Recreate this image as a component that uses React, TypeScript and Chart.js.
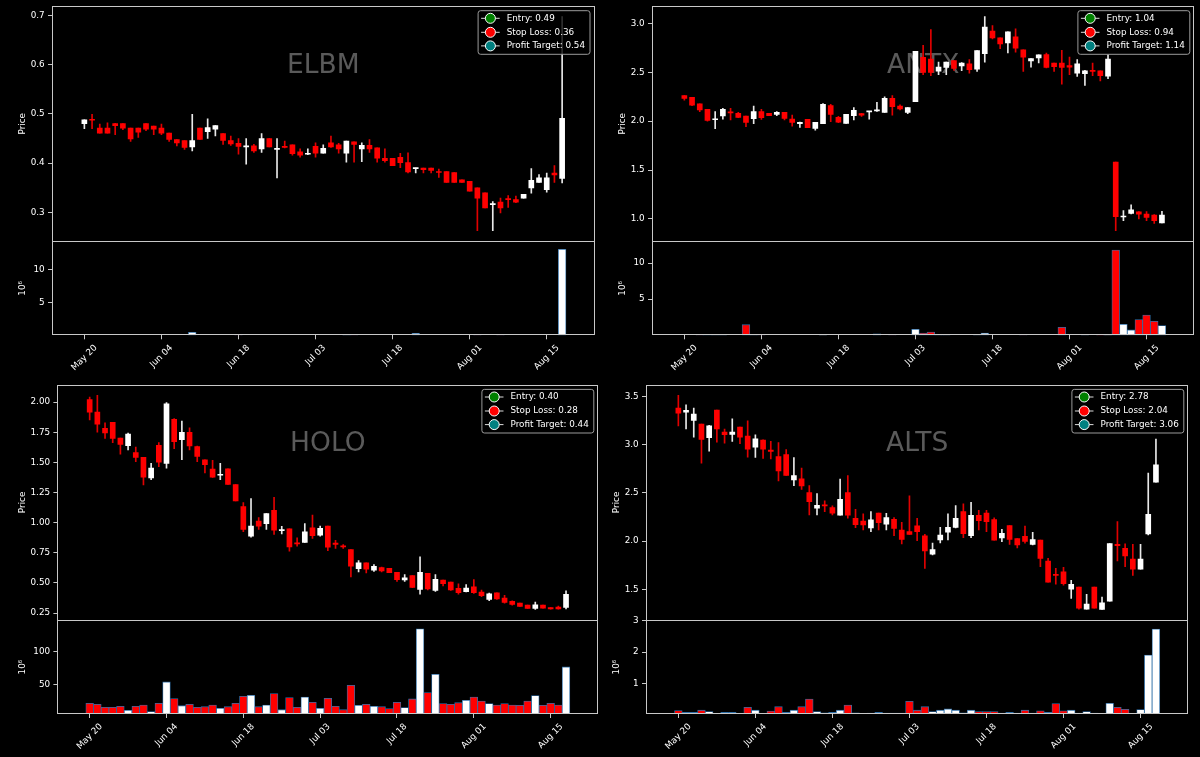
import React, { useEffect, useRef } from "react";
import { Chart, registerables } from "chart.js";

Chart.register(...registerables);

const FONT_FAMILY = "'DejaVu Sans', 'Liberation Sans', sans-serif";
const X_MIN = -4.2;
const X_MAX = 66.2;
const DATE_TICK_POSITIONS = [0, 10, 20, 30, 40, 50, 60];
const DATE_TICK_LABELS = ["May 20", "Jun 04", "Jun 18", "Jul 03", "Jul 18", "Aug 01", "Aug 15"];
const LEGEND_NAMES = ["Entry", "Stop Loss", "Profit Target"];

// ---------------- ELBM ----------------
const ELBM_OPEN = [0.480,0.489,0.471,0.471,0.480,0.480,0.471,0.471,0.480,0.475, 0.471,0.461,0.448,0.446,0.433,0.471,0.464,0.469,0.460,0.446, 0.440,0.433,0.435,0.429,0.450,0.428,0.433,0.437,0.423,0.418, 0.434,0.420,0.441,0.437,0.420,0.443,0.429,0.436,0.431,0.410, 0.410,0.412,0.401,0.389,0.390,0.390,0.382,0.383,0.381,0.366, 0.363,0.350,0.340,0.316,0.321,0.328,0.326,0.329,0.350,0.361, 0.346,0.380,0.369];
const ELBM_HIGH = [0.488,0.499,0.479,0.482,0.481,0.480,0.471,0.471,0.480,0.475, 0.479,0.461,0.448,0.446,0.499,0.471,0.490,0.476,0.460,0.455, 0.450,0.450,0.438,0.460,0.450,0.450,0.445,0.437,0.429,0.429, 0.441,0.437,0.455,0.440,0.445,0.443,0.441,0.448,0.431,0.429, 0.410,0.420,0.421,0.390,0.390,0.390,0.388,0.383,0.381,0.366, 0.363,0.350,0.340,0.322,0.329,0.334,0.333,0.337,0.389,0.377, 0.380,0.395,0.697];
const ELBM_LOW = [0.470,0.470,0.461,0.461,0.458,0.468,0.444,0.452,0.466,0.458, 0.458,0.444,0.435,0.428,0.425,0.448,0.450,0.455,0.438,0.436, 0.418,0.398,0.422,0.422,0.433,0.370,0.431,0.416,0.412,0.417, 0.412,0.420,0.432,0.420,0.402,0.402,0.403,0.422,0.402,0.402, 0.395,0.391,0.380,0.380,0.380,0.380,0.371,0.361,0.361,0.361, 0.343,0.263,0.309,0.263,0.299,0.310,0.320,0.329,0.339,0.361, 0.341,0.361,0.360];
const ELBM_CLOSE = [0.488,0.487,0.461,0.461,0.476,0.471,0.449,0.463,0.469,0.469, 0.461,0.448,0.441,0.432,0.446,0.448,0.472,0.476,0.446,0.439, 0.434,0.434,0.425,0.450,0.433,0.429,0.432,0.419,0.416,0.419, 0.420,0.430,0.433,0.429,0.445,0.438,0.436,0.429,0.410,0.405, 0.395,0.401,0.382,0.390,0.387,0.385,0.381,0.361,0.361,0.361, 0.343,0.329,0.309,0.317,0.309,0.326,0.321,0.337,0.365,0.370, 0.370,0.376,0.491];
const ELBM_VOLUME = [0,0,0,0,0,0,0,0,0,0, 0,0,0,0,0.46,0,0,0,0,0, 0.1,0,0,0,0,0,0,0,0,0, 0,0,0,0,0.12,0.1,0,0,0,0, 0,0,0,0.3,0,0,0,0,0,0, 0,0.08,0,0,0.08,0,0,0,0,0, 0,0,13.1];
const ELBM_LEVELS = [0.49, 0.36, 0.54];
const ELBM_PRICE_TICKS = [0.3, 0.4, 0.5, 0.6, 0.7];
const ELBM_VOLUME_TICKS = [5, 10];
const ELBM_VOLUME_RANGE = [0, 14.3];

// ---------------- ANTX ----------------
const ANTX_OPEN = [2.262,2.245,2.177,2.122,2.015,2.053,2.090,2.081,2.053,2.025, 2.098,2.081,2.070,2.091,2.022,1.975,2.019,1.926,1.974,2.160, 2.040,1.978,2.057,2.077,2.095,2.105,2.091,2.235,2.156,2.091, 2.201,2.653,2.636,2.513,2.551,2.619,2.565,2.588,2.533,2.691, 2.921,2.852,2.801,2.863,2.729,2.616,2.647,2.681,2.595,2.595, 2.568,2.492,2.485,2.516,2.516,2.461,1.583,1.020,1.058,1.072, 1.051,1.041,0.959];
const ANTX_HIGH = [2.262,2.245,2.177,2.122,2.098,2.132,2.132,2.090,2.053,2.156, 2.122,2.081,2.098,2.091,2.063,1.990,2.019,1.988,2.180,2.173, 2.050,2.070,2.139,2.080,2.100,2.194,2.250,2.262,2.167,2.139, 2.715,2.777,2.938,2.606,2.606,2.620,2.600,2.630,2.722,3.069, 2.979,2.852,2.914,2.945,2.729,2.640,2.678,2.698,2.595,2.726, 2.657,2.630,2.520,2.595,2.516,2.681,1.583,1.086,1.144,1.075, 1.075,1.045,1.079];
const ANTX_LOW = [2.214,2.160,2.098,2.000,1.923,2.022,2.012,2.035,1.943,1.975, 2.019,2.057,2.057,2.012,1.950,1.936,1.933,1.909,1.974,1.995, 1.985,1.978,2.012,2.050,2.022,2.100,2.090,2.063,2.115,2.077, 2.200,2.475,2.465,2.475,2.475,2.520,2.516,2.492,2.509,2.605, 2.842,2.743,2.698,2.705,2.509,2.554,2.595,2.544,2.509,2.379, 2.475,2.458,2.365,2.465,2.413,2.434,0.880,0.983,1.051,1.000, 0.983,0.955,0.959];
const ANTX_CLOSE = [2.232,2.163,2.115,2.009,2.020,2.122,2.085,2.039,1.988,2.098, 2.036,2.057,2.091,2.029,1.988,1.988,1.933,1.988,2.173,2.070, 1.991,2.070,2.112,2.063,2.100,2.110,2.235,2.149,2.125,2.139, 2.715,2.500,2.500,2.554,2.606,2.540,2.595,2.527,2.722,2.962, 2.852,2.791,2.914,2.746,2.654,2.640,2.678,2.551,2.557,2.551, 2.554,2.588,2.516,2.510,2.465,2.636,1.024,1.027,1.093,1.048, 1.017,0.983,1.041];
const ANTX_VOLUME = [0,0,0.1,0.15,0.1,0.08,0,0,1.47,0.1, 0.08,0,0,0,0,0,0,0,0.06,0, 0,0,0,0,0,0.2,0,0.1,0,0, 0.83,0.3,0.45,0.1,0.08,0,0,0,0.08,0.3, 0,0,0,0,0.08,0,0,0,0,1.1, 0,0,0.08,0,0.05,0.05,11.8,1.52,0.74,2.17, 2.8,1.93,1.35];
const ANTX_LEVELS = [1.04, 0.94, 1.14];
const ANTX_PRICE_TICKS = [1.0, 1.5, 2.0, 2.5, 3.0];
const ANTX_VOLUME_TICKS = [5, 10];
const ANTX_VOLUME_RANGE = [0, 13.0];

// ---------------- HOLO ----------------
const HOLO_OPEN = [2.022,1.917,1.783,1.833,1.703,1.639,1.581,1.542,1.372,1.642, 1.492,1.858,1.689,1.750,1.631,1.522,1.444,1.394,1.447,1.317, 1.133,0.889,1.014,0.992,1.103,0.934,0.950,0.828,0.836,0.958, 0.897,0.972,0.831,0.808,0.778,0.619,0.667,0.606,0.628,0.622, 0.589,0.525,0.561,0.447,0.581,0.439,0.525,0.508,0.456,0.428, 0.469,0.425,0.364,0.419,0.375,0.347,0.333,0.317,0.289,0.317, 0.297,0.300,0.297];
const HOLO_HIGH = [2.042,2.056,1.828,1.833,1.703,1.744,1.628,1.542,1.492,1.664, 1.997,1.864,1.842,1.786,1.636,1.522,1.517,1.492,1.447,1.317, 1.167,1.200,1.042,1.075,1.211,0.969,0.950,0.875,0.992,1.064, 0.972,0.972,0.853,0.819,0.778,0.686,0.667,0.653,0.633,0.622, 0.589,0.569,0.561,0.717,0.581,0.569,0.525,0.508,0.494,0.486, 0.528,0.442,0.417,0.419,0.397,0.353,0.333,0.317,0.342,0.317, 0.297,0.308,0.436];
const HOLO_LOW = [1.853,1.750,1.700,1.664,1.569,1.603,1.506,1.314,1.356,1.464, 1.453,1.614,1.522,1.603,1.506,1.414,1.375,1.356,1.317,1.181, 0.925,0.881,0.944,0.944,0.903,0.908,0.764,0.806,0.836,0.869, 0.889,0.769,0.786,0.786,0.550,0.592,0.583,0.597,0.592,0.586, 0.514,0.514,0.461,0.408,0.442,0.431,0.475,0.439,0.408,0.425, 0.414,0.386,0.353,0.364,0.333,0.317,0.306,0.289,0.281,0.292, 0.283,0.283,0.286];
const HOLO_CLOSE = [1.917,1.817,1.744,1.700,1.650,1.736,1.542,1.378,1.453,1.503, 1.986,1.672,1.750,1.636,1.550,1.481,1.378,1.397,1.317,1.181, 0.944,0.972,0.972,1.075,0.939,0.936,0.800,0.825,0.925,0.892, 0.953,0.797,0.819,0.800,0.639,0.667,0.614,0.639,0.600,0.586, 0.528,0.542,0.464,0.589,0.450,0.531,0.494,0.442,0.419,0.458, 0.419,0.394,0.411,0.367,0.339,0.322,0.306,0.289,0.319,0.292, 0.286,0.286,0.406];
const HOLO_VOLUME = [20.9,19.4,14.8,14.8,16.3,10.2,16.3,18.4,8.2,20.9, 53.6,28.1,17.3,19.4,14.8,15.8,18.4,13.3,15.8,20.9, 31.6,33.2,15.8,18.4,35.7,11.2,29.6,14.8,30.6,22.4, 13.3,28.6,16.3,11.2,48.5,17.9,19.4,16.3,15.8,12.8, 22.4,14.3,27.6,134.7,37.2,65.3,20.4,19.4,21.9,25.5, 30.6,24.5,20.4,18.4,20.4,18.4,17.9,24.5,32.7,17.9, 20.9,18.4,76.5];
const HOLO_LEVELS = [0.40, 0.28, 0.44];
const HOLO_PRICE_TICKS = [0.25, 0.5, 0.75, 1.0, 1.25, 1.5, 1.75, 2.0];
const HOLO_VOLUME_TICKS = [50, 100];
const HOLO_VOLUME_RANGE = [4.6, 148];

// ---------------- ALTS ----------------
const ALTS_OPEN = [3.379,3.337,3.251,3.213,3.071,3.358,3.130,3.106,3.182,3.088, 2.974,3.047,2.943,2.877,2.898,2.635,2.645,2.503,2.341,2.372, 2.348,2.268,2.503,2.237,2.209,2.137,2.292,2.175,2.227,2.116, 2.099,2.158,2.054,1.864,2.012,2.092,2.143,2.306,2.057,2.268, 2.292,2.223,2.033,2.161,2.026,2.050,1.967,2.012,1.794,1.656, 1.683,1.503,1.524,1.296,1.524,1.293,1.379,1.967,1.926,1.815, 1.711,2.074,2.611];
const ALTS_HIGH = [3.510,3.413,3.379,3.213,3.200,3.358,3.161,3.268,3.182,3.247, 3.102,3.050,3.033,3.022,2.950,2.867,2.756,2.576,2.493,2.417, 2.365,2.642,2.680,2.330,2.282,2.306,2.292,2.289,2.244,2.196, 2.469,2.237,2.071,1.981,2.143,2.282,2.369,2.386,2.403,2.320, 2.320,2.241,2.123,2.161,2.026,2.157,2.092,2.012,1.822,1.718, 1.728,1.593,1.524,1.448,1.524,1.421,1.974,2.203,1.971,1.967, 1.967,2.704,3.057];
const ALTS_LOW = [3.195,3.164,3.078,2.808,2.933,3.026,3.016,3.033,3.009,2.870, 2.867,2.856,2.853,2.625,2.680,2.576,2.535,2.272,2.272,2.306, 2.272,2.268,2.237,2.140,2.116,2.099,2.116,2.116,2.057,1.971, 2.071,2.005,1.718,1.857,1.981,2.012,2.137,2.036,2.036,2.116, 2.099,2.009,1.995,1.967,1.929,1.978,1.960,1.735,1.576,1.555, 1.545,1.407,1.296,1.296,1.306,1.293,1.379,1.794,1.735,1.645, 1.711,2.064,2.611];
const ALTS_CLOSE = [3.327,3.355,3.317,3.054,3.196,3.164,3.102,3.130,3.078,2.953, 3.061,2.953,2.929,2.728,2.680,2.680,2.573,2.410,2.372,2.365, 2.289,2.434,2.268,2.171,2.168,2.220,2.192,2.244,2.133,2.019, 2.071,2.099,1.898,1.912,2.064,2.143,2.237,2.078,2.268,2.213, 2.202,2.009,2.081,2.019,1.960,1.998,2.016,1.822,1.576,1.645, 1.559,1.552,1.306,1.348,1.306,1.362,1.974,1.953,1.846,1.711, 1.815,2.278,2.791];
const ALTS_VOLUME = [0.16,0.1,0.1,0.17,0.13,0.06,0.1,0.1,0.05,0.26, 0.17,0.05,0.14,0.28,0.1,0.17,0.28,0.52,0.13,0.09, 0.1,0.17,0.33,0.09,0.05,0.08,0.1,0.08,0.08,0.08, 0.45,0.17,0.28,0.13,0.17,0.21,0.17,0.09,0.17,0.13, 0.13,0.13,0.08,0.1,0.08,0.17,0.08,0.15,0.1,0.38, 0.15,0.17,0.08,0.13,0.08,0.07,0.39,0.26,0.2,0.06, 0.19,1.91,2.73];
const ALTS_LEVELS = [2.78, 2.04, 3.06];
const ALTS_PRICE_TICKS = [1.5, 2.0, 2.5, 3.0, 3.5];
const ALTS_VOLUME_TICKS = [1, 2, 3];
const ALTS_VOLUME_RANGE = [0.05, 3.01];

// ---------------- styles ----------------
const UP_COLOR = "#ffffff";
const DOWN_COLOR = "#ff0000";
const UP_WICK = "#e8e8e8";
const DOWN_WICK = "#e00000";
const VOL_EDGE = "#2f6fa8";
const AXIS_COLOR = "#c8c8c8";
const TEXT_COLOR = "#ffffff";
const WATERMARK_COLOR = "#5a5a5a";
const LEGEND_MARKERS = ["#008000", "#ff0000", "#008080"];
const FS = 8.8;

type Frame = { left: number; top: number; width: number; height: number; axisLeft: number; padRight: number; padTop: number; xAxisHeight: number; titleOffset: number };

const PANELS = [
  { symbol: "ELBM", open: ELBM_OPEN, high: ELBM_HIGH, low: ELBM_LOW, close: ELBM_CLOSE, volume: ELBM_VOLUME, levels: ELBM_LEVELS, priceTicks: ELBM_PRICE_TICKS, priceDecimals: 1, volumeTicks: ELBM_VOLUME_TICKS, volumeRange: ELBM_VOLUME_RANGE,
    frame: { left: 0, top: 0, width: 600, height: 378, axisLeft: 52, padRight: 5.5, padTop: 6, xAxisHeight: 42.7, titleOffset: 17 } },
  { symbol: "ANTX", open: ANTX_OPEN, high: ANTX_HIGH, low: ANTX_LOW, close: ANTX_CLOSE, volume: ANTX_VOLUME, levels: ANTX_LEVELS, priceTicks: ANTX_PRICE_TICKS, priceDecimals: 1, volumeTicks: ANTX_VOLUME_TICKS, volumeRange: ANTX_VOLUME_RANGE,
    frame: { left: 600, top: 0, width: 600, height: 378, axisLeft: 52, padRight: 5.7, padTop: 6, xAxisHeight: 42.7, titleOffset: 17 } },
  { symbol: "HOLO", open: HOLO_OPEN, high: HOLO_HIGH, low: HOLO_LOW, close: HOLO_CLOSE, volume: HOLO_VOLUME, levels: HOLO_LEVELS, priceTicks: HOLO_PRICE_TICKS, priceDecimals: 2, volumeTicks: HOLO_VOLUME_TICKS, volumeRange: HOLO_VOLUME_RANGE,
    frame: { left: 0, top: 378, width: 600, height: 379, axisLeft: 57.4, padRight: 1.7, padTop: 6.7, xAxisHeight: 43, titleOffset: 17 } },
  { symbol: "ALTS", open: ALTS_OPEN, high: ALTS_HIGH, low: ALTS_LOW, close: ALTS_CLOSE, volume: ALTS_VOLUME, levels: ALTS_LEVELS, priceTicks: ALTS_PRICE_TICKS, priceDecimals: 1, volumeTicks: ALTS_VOLUME_TICKS, volumeRange: ALTS_VOLUME_RANGE,
    frame: { left: 600, top: 378, width: 600, height: 379, axisLeft: 46, padRight: 11.7, padTop: 6.7, xAxisHeight: 43, titleOffset: 11.4 } },
];

function zeroPad(s: any) {
  s.paddingLeft = 0; s.paddingRight = 0; s.paddingTop = 0; s.paddingBottom = 0;
}

function roundRect(ctx: CanvasRenderingContext2D, x: number, y: number, w: number, h: number, r: number) {
  ctx.beginPath();
  ctx.moveTo(x + r, y);
  ctx.lineTo(x + w - r, y);
  ctx.arcTo(x + w, y, x + w, y + r, r);
  ctx.lineTo(x + w, y + h - r);
  ctx.arcTo(x + w, y + h, x + w - r, y + h, r);
  ctx.lineTo(x + r, y + h);
  ctx.arcTo(x, y + h, x, y + h - r, r);
  ctx.lineTo(x, y + r);
  ctx.arcTo(x, y, x + r, y, r);
  ctx.closePath();
}

function makeDecorPlugin(p: any) {
  return {
    id: "panelDecor",
    beforeDatasetsDraw(chart: any) {
      const { ctx, chartArea } = chart;
      const ys = chart.scales.y;
      ctx.save();
      ctx.font = `26.5px ${FONT_FAMILY}`;
      ctx.fillStyle = WATERMARK_COLOR;
      ctx.textAlign = "center";
      ctx.textBaseline = "alphabetic";
      ctx.fillText(p.symbol, (chartArea.left + chartArea.right) / 2, ys.top + 66.7);
      ctx.restore();
    },
    afterDraw(chart: any) {
      const { ctx, chartArea } = chart;
      const ys = chart.scales.y;
      const vs = chart.scales.v;
      const xs = chart.scales.x;
      ctx.save();
      // spines
      ctx.strokeStyle = AXIS_COLOR;
      ctx.lineWidth = 1;
      const L = Math.round(chartArea.left) + 0.5;
      const R = Math.round(chartArea.right) - 0.5;
      const T = Math.round(ys.top) + 0.5;
      const M = Math.round(ys.bottom) + 0.5;
      const B = Math.round(vs.bottom) - 0.5;
      ctx.strokeRect(L, T, R - L, M - T);
      ctx.strokeRect(L, M, R - L, B - M);

      // legend
      ctx.font = `${FS}px ${FONT_FAMILY}`;
      const labels = LEGEND_NAMES.map((n, k) => `${n}: ${p.levels[k].toFixed(2)}`);
      const textW = Math.max(...labels.map((t) => ctx.measureText(t).width));
      const w = 28.6 + textW + 5;
      const h = 43.6;
      const right = chartArea.right - 4.5;
      const top = ys.top + 4.7;
      const left = right - w;
      roundRect(ctx, left, top, w, h, 2.5);
      ctx.fillStyle = "rgba(0,0,0,0.8)";
      ctx.fill();
      ctx.strokeStyle = "#9a9a9a";
      ctx.stroke();
      const rows = [7.6, 21.6, 35.2];
      labels.forEach((t, k) => {
        const cy = top + rows[k];
        ctx.strokeStyle = "#dcdcdc";
        ctx.lineWidth = 1;
        ctx.beginPath();
        ctx.moveTo(left + 3, cy);
        ctx.lineTo(left + 21.6, cy);
        ctx.stroke();
        ctx.beginPath();
        ctx.arc(left + 12.3, cy, 5, 0, Math.PI * 2);
        ctx.fillStyle = LEGEND_MARKERS[k];
        ctx.fill();
        ctx.strokeStyle = "#ffffff";
        ctx.stroke();
        ctx.fillStyle = TEXT_COLOR;
        ctx.textAlign = "left";
        ctx.textBaseline = "middle";
        ctx.fillText(t, left + 28.6, cy);
      });

      // rotated date labels (centred like matplotlib)
      ctx.fillStyle = TEXT_COLOR;
      ctx.textAlign = "center";
      ctx.textBaseline = "middle";
      DATE_TICK_POSITIONS.forEach((pos, k) => {
        const label = DATE_TICK_LABELS[k];
        const tw = ctx.measureText(label).width;
        const th = FS * 1.17;
        const side = (tw + th) * Math.SQRT1_2;
        const x = xs.getPixelForValue(pos);
        const cy = vs.bottom + 7.5 + side / 2;
        ctx.save();
        ctx.translate(x, cy);
        ctx.rotate(-Math.PI / 4);
        ctx.fillText(label, 0, 0);
        ctx.restore();
      });
      ctx.restore();
    },
  };
}

function buildConfig(p: any): any {
  const f: Frame = p.frame;
  const up = p.open.map((o: number, i: number) => p.close[i] >= o);
  const bodyColors = up.map((u: boolean) => (u ? UP_COLOR : DOWN_COLOR));
  const wickColors = up.map((u: boolean) => (u ? UP_WICK : DOWN_WICK));
  const lo = Math.min(...p.low);
  const hi = Math.max(...p.high);
  const margin = (hi - lo) * 0.05;
  const wicks = p.low.map((l: number, i: number) => ({ x: i, y: [l, p.high[i]] }));
  const bodies = p.open.map((o: number, i: number) => ({ x: i, y: [o, p.close[i]] }));
  const vols = p.volume.map((v: number, i: number) => ({ x: i, y: v }));
  const tickFont = { family: FONT_FAMILY, size: FS };
  const gridOpts = { display: true, drawOnChartArea: false, drawTicks: true, tickLength: 4, color: AXIS_COLOR, lineWidth: 1, offset: false };

  return {
    type: "bar",
    data: {
      datasets: [
        { label: "Volume", data: vols, xAxisID: "x", yAxisID: "v", backgroundColor: bodyColors, borderColor: VOL_EDGE, borderWidth: 0.8, borderSkipped: false, barPercentage: 1, categoryPercentage: 1, grouped: false, order: 3 },
        { label: "Wick", data: wicks, xAxisID: "x", yAxisID: "y", backgroundColor: wickColors, barThickness: 1, grouped: false, order: 2 },
        { label: "Body", data: bodies, xAxisID: "x", yAxisID: "y", backgroundColor: bodyColors, barThickness: 5, minBarLength: 1, grouped: false, order: 1 },
      ],
    },
    options: {
      responsive: false,
      animation: false,
      events: [],
      layout: { autoPadding: false, padding: { left: 0, right: f.padRight, top: f.padTop, bottom: 0 } },
      plugins: { legend: { display: false }, tooltip: { enabled: false }, title: { display: false } },
      scales: {
        x: {
          type: "linear",
          position: "bottom",
          min: X_MIN,
          max: X_MAX,
          bounds: "data",
          offset: false,
          grid: gridOpts,
          border: { display: false },
          ticks: { display: false },
          afterBuildTicks: (s: any) => { s.ticks = DATE_TICK_POSITIONS.map((v) => ({ value: v })); },
          afterFit: (s: any) => { s.height = f.xAxisHeight; zeroPad(s); },
        },
        v: {
          type: "linear",
          position: "left",
          stack: "panel",
          stackWeight: 93.9,
          min: p.volumeRange[0],
          max: p.volumeRange[1],
          bounds: "data",
          grid: gridOpts,
          border: { display: false },
          ticks: { color: TEXT_COLOR, font: tickFont, padding: 3.3, callback: (val: number) => String(val) },
          afterBuildTicks: (s: any) => { s.ticks = p.volumeTicks.map((v: number) => ({ value: v })); },
          afterFit: (s: any) => { s.width = f.axisLeft; zeroPad(s); },
          title: { display: true, text: "10\u2076", color: TEXT_COLOR, font: tickFont, padding: { top: f.titleOffset, bottom: 0 } },
        },
        y: {
          type: "linear",
          position: "left",
          stack: "panel",
          stackWeight: 235.4,
          min: lo - margin,
          max: hi + margin,
          bounds: "data",
          grid: gridOpts,
          border: { display: false },
          ticks: { color: TEXT_COLOR, font: tickFont, padding: 3.3, callback: (val: number) => Number(val).toFixed(p.priceDecimals) },
          afterBuildTicks: (s: any) => { s.ticks = p.priceTicks.map((v: number) => ({ value: v })); },
          afterFit: (s: any) => { s.width = f.axisLeft; zeroPad(s); },
          title: { display: true, text: "Price", color: TEXT_COLOR, font: tickFont, padding: { top: f.titleOffset, bottom: 0 } },
        },
      },
    },
    plugins: [makeDecorPlugin(p)],
  };
}

function Panel({ panel }: { panel: any }) {
  const ref = useRef<HTMLCanvasElement | null>(null);
  useEffect(() => {
    if (!ref.current) return;
    const chart = new Chart(ref.current, buildConfig(panel));
    return () => chart.destroy();
  }, [panel]);
  const f: Frame = panel.frame;
  return (
    <canvas
      ref={ref}
      width={f.width}
      height={f.height}
      style={{ position: "absolute", left: f.left, top: f.top, width: f.width, height: f.height, display: "block" }}
    />
  );
}

export default function App() {
  return (
    <div style={{ position: "fixed", left: 0, top: 0, width: 1200, height: 757, background: "#000000", overflow: "hidden" }}>
      {PANELS.map((p) => (
        <Panel key={p.symbol} panel={p} />
      ))}
    </div>
  );
}
